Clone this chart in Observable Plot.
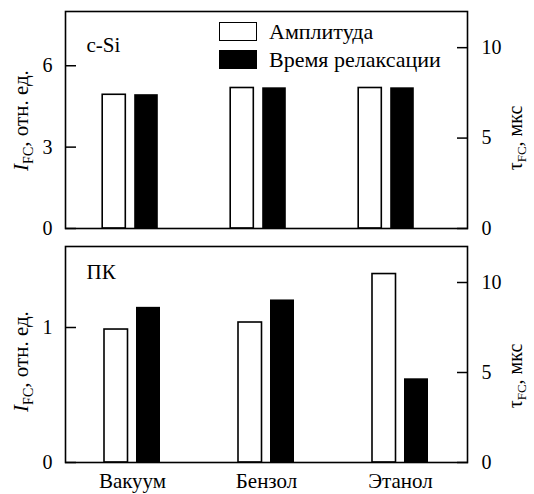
<!DOCTYPE html>
<html><head><meta charset="utf-8">
<script src="https://cdn.jsdelivr.net/npm/d3@7"></script>
<script src="https://cdn.jsdelivr.net/npm/@observablehq/plot@0.6"></script>
<style>
body{margin:0;background:#fff;}
#chart{position:relative;width:534px;height:494px;font-family:"Liberation Serif","Times New Roman",serif;color:#000;}
#chart svg{display:block;}
.legend{position:absolute;left:219px;top:17.5px;font-size:22px;font-family:"Liberation Serif","Times New Roman",serif;}
.legend .row{display:flex;align-items:center;height:28px;}
.legend .sw{width:38px;height:19px;box-sizing:border-box;border:1.6px solid #000;margin-right:12px;}
</style></head><body><div id="chart"></div>
<script>
const categories = ["Вакуум", "Бензол", "Этанол"];
const seriesNames = ["Амплитуда", "Время релаксации"];
const seriesFill = ["white", "black"];
const cSiAmplitude = [4.93, 5.18, 5.18];
const cSiTau = [7.40, 7.78, 7.78];
const pkAmplitude = [0.985, 1.037, 1.396];
const pkTau = [8.62, 9.03, 4.65];
const cSiAmpTicks = [0, 3, 6];
const pkAmpTicks = [0, 1];
const tauTicks = [0, 5, 10];
const cSiAmpMax = 8;
const pkAmpMax = 1.6;
const tauMax = 12;
const panelLabels = ["c-Si", "ПК"];

const W = 534, ML = 65, MR = 67;
const FONT = "'Liberation Serif', 'Times New Roman', serif";

function panel(o) {
  const k = o.ampMax / tauMax;
  const rows = categories.map((c, i) => ({category: c, amp: o.amp[i], tauOnAmp: o.tau[i] * k}));
  const bw = (o.range[1] - o.range[0]) / categories.length;
  const h = bw / 2;
  const marks = [
    Plot.barY(rows, {x: "category", y: "amp", fill: seriesFill[0], stroke: "black", strokeWidth: 1.6, insetLeft: h - 28, insetRight: h + 4.5}),
    Plot.barY(rows, {x: "category", y: "tauOnAmp", fill: seriesFill[1], insetLeft: h + 4, insetRight: h - 28}),
    Plot.axisY({ticks: o.ampTicks, anchor: "left", tickSize: -11, tickPadding: 24, tickFormat: d => String(d), fontSize: 20, strokeWidth: 1.5, label: null}),
    Plot.axisY({ticks: tauTicks.map(t => t * k), anchor: "right", tickSize: -11, tickPadding: 25, tickFormat: d => String(Math.round(d / k)), fontSize: 20, strokeWidth: 1.5, label: null}),
    Plot.text([o.label], {frameAnchor: "top-left", dx: 21, dy: o.labelDy, lineAnchor: "bottom", textAnchor: "start", fontSize: 21}),
    Plot.frame({strokeWidth: 1.6})
  ];
  if (o.showX) marks.push(Plot.axisX({tickSize: 0, tickPadding: 11, fontSize: 21, label: null}));
  return Plot.plot({
    width: W, height: o.height, marginLeft: ML, marginRight: MR, marginTop: o.mt, marginBottom: o.mb,
    style: {fontFamily: FONT, color: "#000", background: "white", overflow: "visible"},
    x: {type: "band", domain: categories, range: o.range, padding: 0, axis: null},
    y: {domain: [0, o.ampMax], axis: null},
    marks
  });
}

const chart = document.getElementById("chart");
const top1 = panel({amp: cSiAmplitude, tau: cSiTau, ampMax: cSiAmpMax, ampTicks: cSiAmpTicks, label: panelLabels[0], labelDy: 40,
  range: [ML, ML + 3 * 128.4], height: 236, mt: 11, mb: 8, showX: false});
const bot = panel({amp: pkAmplitude, tau: pkTau, ampMax: pkAmpMax, ampTicks: pkAmpTicks, label: panelLabels[1], labelDy: 32,
  range: [ML, W - MR], height: 258, mt: 10, mb: 32, showX: true});
chart.appendChild(top1);
chart.appendChild(bot);

function yLabels(svg, ly, ry) {
  const s = d3.select(svg);
  const l = s.append("text").attr("transform", `translate(28,${ly}) rotate(-90)`).attr("text-anchor", "middle")
    .attr("font-size", 21).attr("font-family", FONT).attr("fill", "black");
  l.append("tspan").attr("font-style", "italic").text("I");
  l.append("tspan").attr("font-size", 14).attr("dy", 5).text("FC");
  l.append("tspan").attr("dy", -5).text(", отн. ед.");
  const r = s.append("text").attr("transform", `translate(522,${ry}) rotate(-90)`).attr("text-anchor", "middle")
    .attr("font-size", 20).attr("font-family", FONT).attr("fill", "black");
  r.append("tspan").text("τ");
  r.append("tspan").attr("font-size", 13).attr("dy", 4).text("FC");
  r.append("tspan").attr("dy", -4).text(", мкс");
}
yLabels(top1, 120.5, 138);
yLabels(bot, 125.5, 140);

const lg = document.createElement("div");
lg.className = "legend";
seriesNames.forEach((n, i) => {
  const row = document.createElement("div");
  row.className = "row";
  const sw = document.createElement("span");
  sw.className = "sw";
  sw.style.background = seriesFill[i];
  const t = document.createElement("span");
  t.textContent = n;
  row.appendChild(sw); row.appendChild(t);
  lg.appendChild(row);
});
chart.appendChild(lg);
</script></body></html>
